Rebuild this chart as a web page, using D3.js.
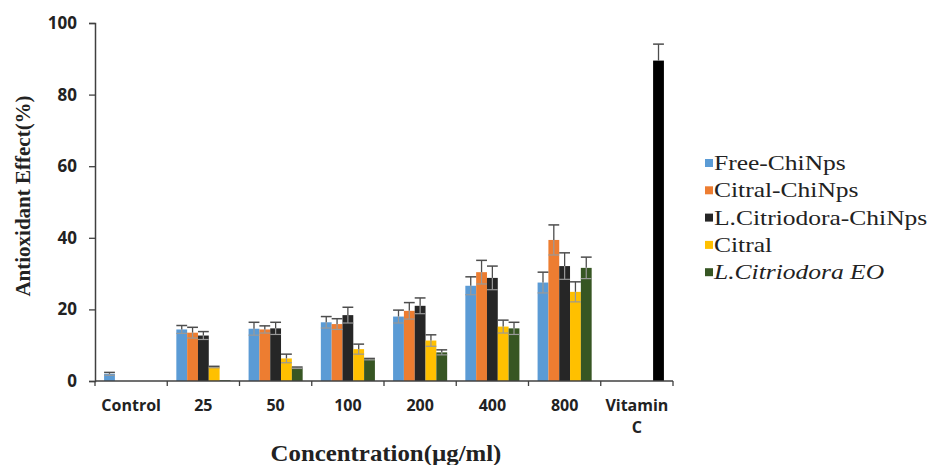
<!DOCTYPE html>
<html>
<head>
<meta charset="utf-8">
<script src="https://cdn.jsdelivr.net/npm/d3@7"></script>
<style>
  body { margin: 0; background: #fff; }
  svg { display: block; }
</style>
</head>
<body>
<svg id="chart" width="935" height="465"></svg>
<script>
// categories on the x axis
var categories = ["Control", "25", "50", "100", "200", "400", "800", "Vitamin C"];
var seriesNames = ["Free-ChiNps", "Citral-ChiNps", "L.Citriodora-ChiNps", "Citral", "L.Citriodora EO"];
var seriesColors = ["#5b9bd5", "#ed7d31", "#262626", "#ffc000", "#375623"];

// values per series, one per category (null = no bar)
var freeChi    = [2.0, 14.4, 14.6, 16.4, 18.0, 26.6, 27.5, null];
var citralChi  = [null, 13.5, 14.4, 15.9, 19.6, 30.4, 39.4, null];
var lcitChi    = [null, 12.7, 14.7, 18.4, 21.0, 28.8, 32.1, null];
var citral     = [null, 3.9, 6.3, 8.9, 11.3, 15.2, 24.9, null];
var lcitEO     = [null, 0.2, 3.7, 6.1, 8.0, 14.7, 31.6, null];

// error (sd) per series
var freeChiErr   = [0.4, 1.1, 1.8, 1.6, 1.8, 2.5, 2.9, null];
var citralChiErr = [null, 1.5, 1.0, 1.5, 2.3, 3.3, 4.2, null];
var lcitChiErr   = [null, 1.1, 1.7, 2.2, 2.2, 3.3, 3.7, null];
var citralErr    = [null, 0.2, 1.2, 1.4, 1.6, 1.8, 2.8, null];
var lcitEOErr    = [null, 0.1, 0.2, 0.2, 0.7, 1.7, 3.0, null];

// Vitamin C reference value, drawn black in the last slot
var vitaminC = 89.5;
var vitaminCErr = 4.6;

var yTicks = [0, 20, 40, 60, 80, 100];

var seriesValues = [freeChi, citralChi, lcitChi, citral, lcitEO];
var seriesErrors = [freeChiErr, citralChiErr, lcitChiErr, citralErr, lcitEOErr];

var svg = d3.select("#chart");
var plotL = 95, plotR = 673, plotT = 23, plotB = 381;

var x = d3.scaleBand().domain(categories).range([plotL, plotR]).padding(0);
var xInner = d3.scaleBand().domain(d3.range(seriesNames.length))
    .range([0, x.bandwidth()]).paddingOuter(0.84).paddingInner(0);
var y = d3.scaleLinear().domain([0, 100]).range([plotB, plotT]);

var bars = [];
seriesValues.forEach(function(vals, s) {
    vals.forEach(function(v, i) {
        if (v == null) return;
        bars.push({cat: categories[i], s: s, v: v, err: seriesErrors[s][i], color: seriesColors[s]});
    });
});
bars.push({cat: "Vitamin C", s: 4, v: vitaminC, err: vitaminCErr, color: "#000"});

var g = svg.append("g");

g.selectAll("rect.bar")
    .data(bars)
    .enter().append("rect")
    .attr("class", "bar")
    .attr("x", function(d) { return x(d.cat) + xInner(d.s); })
    .attr("width", xInner.bandwidth())
    .attr("y", function(d) { return y(d.v); })
    .attr("height", function(d) { return y(0) - y(d.v); })
    .style("fill", function(d) { return d.color; });

// error bars
var eb = g.selectAll("g.err")
    .data(bars.filter(function(d) { return d.err > 0.15; }))
    .enter().append("g")
    .attr("class", "err")
    .attr("transform", function(d) {
        return "translate(" + (x(d.cat) + xInner(d.s) + xInner.bandwidth() / 2) + ",0)";
    });
var capW = xInner.bandwidth() / 2;

eb.append("line")
    .attr("y1", function(d) { return y(d.v); })
    .attr("y2", function(d) { return y(d.v + d.err); })
    .style("stroke", "#4d4d4d").style("stroke-width", 1.3);
eb.append("line")
    .attr("x1", -capW).attr("x2", capW)
    .attr("y1", function(d) { return y(d.v + d.err); })
    .attr("y2", function(d) { return y(d.v + d.err); })
    .style("stroke", "#4d4d4d").style("stroke-width", 1.5);
eb.filter(function(d) { return d.cat != "Vitamin C"; }).append("line")
    .attr("y1", function(d) { return y(d.v); })
    .attr("y2", function(d) { return y(Math.max(0, d.v - d.err)); })
    .style("stroke", "#999").style("stroke-width", 1.2);
eb.filter(function(d) { return d.cat != "Vitamin C"; }).append("line")
    .attr("x1", -capW).attr("x2", capW)
    .attr("y1", function(d) { return y(Math.max(0, d.v - d.err)); })
    .attr("y2", function(d) { return y(Math.max(0, d.v - d.err)); })
    .style("stroke", "#999").style("stroke-width", 1.2);

// y axis
var yAxis = svg.append("g")
    .attr("transform", "translate(" + plotL + ",0)")
    .call(d3.axisLeft(y).tickValues(yTicks).tickSize(6).tickPadding(12));
yAxis.select(".domain").style("stroke", "#404040").style("stroke-width", 1.5);
yAxis.selectAll(".tick line").style("stroke", "#404040").style("stroke-width", 1.3);
yAxis.selectAll(".tick text")
    .style("font-family", "'Open Sans', sans-serif")
    .style("font-weight", "bold")
    .style("font-size", "17px")
    .style("fill", "#222");

// x axis with ticks at group boundaries
var xAxis = svg.append("g");
xAxis.append("line")
    .attr("x1", plotL).attr("x2", plotR)
    .attr("y1", plotB).attr("y2", plotB)
    .style("stroke", "#404040").style("stroke-width", 1.5);
var bounds = categories.map(function(c) { return x(c); }).concat([plotR]);
xAxis.selectAll("line.tk")
    .data(bounds)
    .enter().append("line")
    .attr("class", "tk")
    .attr("x1", function(d) { return d; }).attr("x2", function(d) { return d; })
    .attr("y1", plotB).attr("y2", plotB + 5)
    .style("stroke", "#404040").style("stroke-width", 1.3);

var xl = xAxis.selectAll("text.xl")
    .data(categories)
    .enter().append("text")
    .attr("class", "xl")
    .attr("x", function(d) { return x(d) + x.bandwidth() / 2; })
    .attr("y", 411)
    .attr("text-anchor", "middle")
    .style("font-family", "'Open Sans', sans-serif")
    .style("font-weight", "bold")
    .style("font-size", "16px")
    .style("fill", "#222");
xl.each(function(d) {
    var parts = d.split(" ");
    var t = d3.select(this);
    parts.forEach(function(p, k) {
        t.append("tspan")
            .attr("x", x(d) + x.bandwidth() / 2)
            .attr("dy", k == 0 ? 0 : 22)
            .text(p);
    });
});

// axis titles
svg.append("text")
    .attr("transform", "translate(30,196) rotate(-90)")
    .attr("text-anchor", "middle")
    .style("font-family", "'Liberation Serif', 'Times New Roman', serif")
    .style("font-weight", "bold")
    .style("font-size", "21px")
    .style("fill", "#222")
    .text("Antioxidant Effect(%)");

svg.append("text")
    .attr("transform", "translate(386,461) scale(1.08,1)")
    .attr("text-anchor", "middle")
    .style("font-family", "'Liberation Serif', 'Times New Roman', serif")
    .style("font-weight", "bold")
    .style("font-size", "23px")
    .style("fill", "#222")
    .text("Concentration(\u00b5g/ml)");

// legend
var legend = svg.append("g").attr("transform", "translate(705,163)");
var li = legend.selectAll("g.li")
    .data(seriesNames)
    .enter().append("g")
    .attr("class", "li")
    .attr("transform", function(d, i) { return "translate(0," + (i * 27.3) + ")"; });
li.append("rect")
    .attr("x", 0).attr("y", -4)
    .attr("width", 8).attr("height", 8)
    .style("fill", function(d, i) { return seriesColors[i]; });
li.append("text")
    .attr("transform", "translate(9,7) scale(1.16,1)")
    .style("font-family", "'Liberation Serif', 'Times New Roman', serif")
    .style("font-size", "22px")
    .style("font-style", function(d, i) { return i == 4 ? "italic" : "normal"; })
    .style("fill", "#222")
    .text(function(d) { return d; });
</script>
</body>
</html>
